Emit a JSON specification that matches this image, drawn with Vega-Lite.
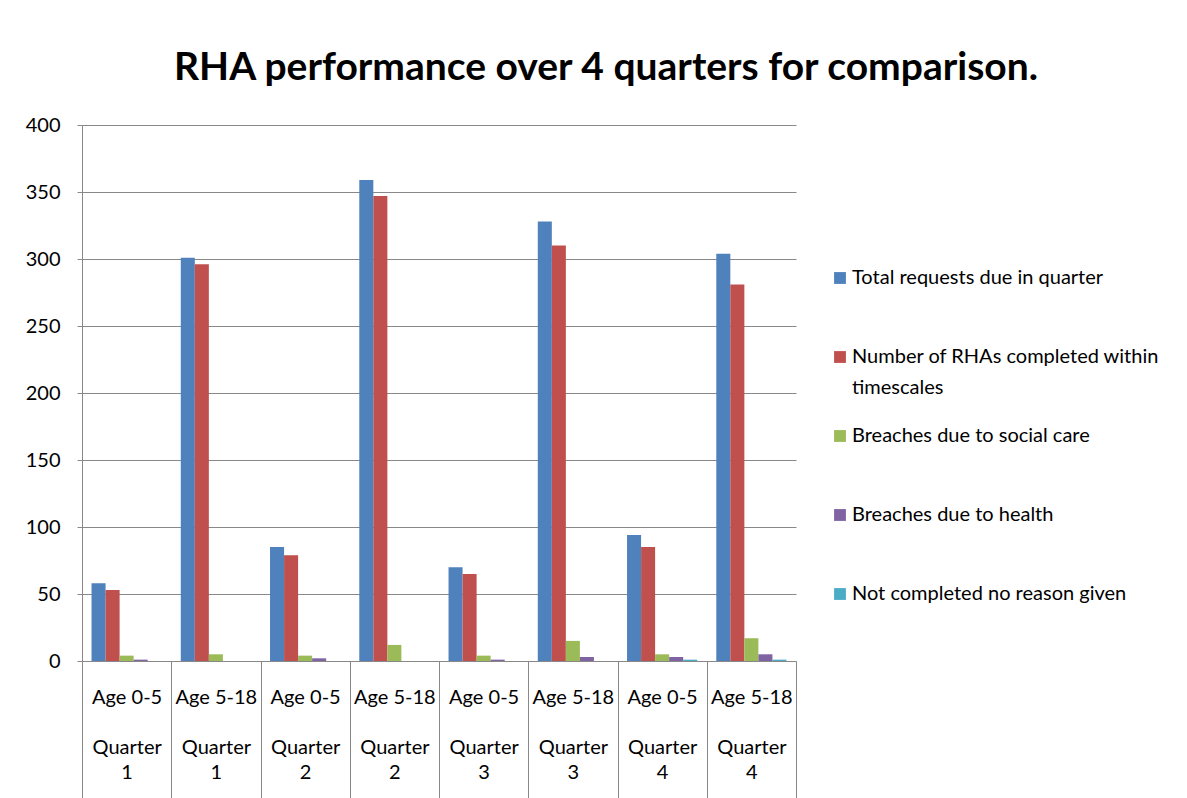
{
  "$schema": "https://vega.github.io/schema/vega-lite/v6.json",
  "autosize": "none",
  "width": 714,
  "height": 536,
  "padding": {"left": 82, "top": 125, "right": 391, "bottom": 137},
  "background": "white",
  "title": {
    "text": "RHA performance over 4 quarters for comparison.",
    "font": "Lato",
    "fontSize": 39,
    "fontWeight": "bold",
    "color": "black",
    "anchor": "middle",
    "frame": "group",
    "dx": 167,
    "offset": 27
  },
  "data": {
    "values": [
      {"cat": "Age 0-5|Quarter|1", "series": "Total requests due in quarter", "value": 58},
      {"cat": "Age 0-5|Quarter|1", "series": "Number of RHAs completed within timescales", "value": 53},
      {"cat": "Age 0-5|Quarter|1", "series": "Breaches due to social care", "value": 4},
      {"cat": "Age 0-5|Quarter|1", "series": "Breaches due to health", "value": 1},
      {"cat": "Age 0-5|Quarter|1", "series": "Not completed no reason given", "value": 0},
      {"cat": "Age 5-18|Quarter|1", "series": "Total requests due in quarter", "value": 301},
      {"cat": "Age 5-18|Quarter|1", "series": "Number of RHAs completed within timescales", "value": 296},
      {"cat": "Age 5-18|Quarter|1", "series": "Breaches due to social care", "value": 5},
      {"cat": "Age 5-18|Quarter|1", "series": "Breaches due to health", "value": 0},
      {"cat": "Age 5-18|Quarter|1", "series": "Not completed no reason given", "value": 0},
      {"cat": "Age 0-5|Quarter|2", "series": "Total requests due in quarter", "value": 85},
      {"cat": "Age 0-5|Quarter|2", "series": "Number of RHAs completed within timescales", "value": 79},
      {"cat": "Age 0-5|Quarter|2", "series": "Breaches due to social care", "value": 4},
      {"cat": "Age 0-5|Quarter|2", "series": "Breaches due to health", "value": 2},
      {"cat": "Age 0-5|Quarter|2", "series": "Not completed no reason given", "value": 0},
      {"cat": "Age 5-18|Quarter|2", "series": "Total requests due in quarter", "value": 359},
      {"cat": "Age 5-18|Quarter|2", "series": "Number of RHAs completed within timescales", "value": 347},
      {"cat": "Age 5-18|Quarter|2", "series": "Breaches due to social care", "value": 12},
      {"cat": "Age 5-18|Quarter|2", "series": "Breaches due to health", "value": 0},
      {"cat": "Age 5-18|Quarter|2", "series": "Not completed no reason given", "value": 0},
      {"cat": "Age 0-5|Quarter|3", "series": "Total requests due in quarter", "value": 70},
      {"cat": "Age 0-5|Quarter|3", "series": "Number of RHAs completed within timescales", "value": 65},
      {"cat": "Age 0-5|Quarter|3", "series": "Breaches due to social care", "value": 4},
      {"cat": "Age 0-5|Quarter|3", "series": "Breaches due to health", "value": 1},
      {"cat": "Age 0-5|Quarter|3", "series": "Not completed no reason given", "value": 0},
      {"cat": "Age 5-18|Quarter|3", "series": "Total requests due in quarter", "value": 328},
      {"cat": "Age 5-18|Quarter|3", "series": "Number of RHAs completed within timescales", "value": 310},
      {"cat": "Age 5-18|Quarter|3", "series": "Breaches due to social care", "value": 15},
      {"cat": "Age 5-18|Quarter|3", "series": "Breaches due to health", "value": 3},
      {"cat": "Age 5-18|Quarter|3", "series": "Not completed no reason given", "value": 0},
      {"cat": "Age 0-5|Quarter|4", "series": "Total requests due in quarter", "value": 94},
      {"cat": "Age 0-5|Quarter|4", "series": "Number of RHAs completed within timescales", "value": 85},
      {"cat": "Age 0-5|Quarter|4", "series": "Breaches due to social care", "value": 5},
      {"cat": "Age 0-5|Quarter|4", "series": "Breaches due to health", "value": 3},
      {"cat": "Age 0-5|Quarter|4", "series": "Not completed no reason given", "value": 1},
      {"cat": "Age 5-18|Quarter|4", "series": "Total requests due in quarter", "value": 304},
      {"cat": "Age 5-18|Quarter|4", "series": "Number of RHAs completed within timescales", "value": 281},
      {"cat": "Age 5-18|Quarter|4", "series": "Breaches due to social care", "value": 17},
      {"cat": "Age 5-18|Quarter|4", "series": "Breaches due to health", "value": 5},
      {"cat": "Age 5-18|Quarter|4", "series": "Not completed no reason given", "value": 1}
    ]
  },
  "mark": {"type": "bar", "cornerRadius": 0},
  "encoding": {
    "x": {
      "field": "cat",
      "type": "nominal",
      "sort": ["Age 0-5|Quarter|1", "Age 5-18|Quarter|1", "Age 0-5|Quarter|2", "Age 5-18|Quarter|2", "Age 0-5|Quarter|3", "Age 5-18|Quarter|3", "Age 0-5|Quarter|4", "Age 5-18|Quarter|4"],
      "scale": {"paddingInner": 0, "paddingOuter": 0},
      "axis": {
        "title": null,
        "labelAngle": 0,
        "labelExpr": "isValid(datum.value) ? [split(datum.value, '|')[0], '\u2800', split(datum.value, '|')[1], split(datum.value, '|')[2]] : ''",
        "labelFont": "Lato",
        "labelFontSize": 20,
        "labelColor": "black",
        "labelLineHeight": 25,
        "labelBaseline": "top",
        "labelPadding": -114,
        "tickBand": "extent",
        "tickSize": 140,
        "tickColor": "#888888",
        "domainColor": "#888888",
        "labelOverlap": false
      }
    },
    "xOffset": {
      "field": "series",
      "type": "nominal",
      "sort": ["Total requests due in quarter", "Number of RHAs completed within timescales", "Breaches due to social care", "Breaches due to health", "Not completed no reason given"],
      "scale": {"paddingInner": 0, "paddingOuter": 0.68}
    },
    "y": {
      "field": "value",
      "type": "quantitative",
      "scale": {"domain": [0, 400]},
      "axis": {
        "title": null,
        "values": [0, 50, 100, 150, 200, 250, 300, 350, 400],
        "labelFont": "Lato",
        "labelFontSize": 20,
        "labelColor": "black",
        "tickSize": 5,
        "labelPadding": 17,
        "tickColor": "#888888",
        "domainColor": "#888888",
        "gridColor": "#888888",
        "grid": true
      }
    },
    "color": {
      "field": "series",
      "type": "nominal",
      "sort": ["Total requests due in quarter", "Number of RHAs completed within timescales", "Breaches due to social care", "Breaches due to health", "Not completed no reason given"],
      "scale": {
        "domain": ["Total requests due in quarter", "Number of RHAs completed within timescales", "Breaches due to social care", "Breaches due to health", "Not completed no reason given"],
        "range": ["#4F81BD", "#C0504D", "#9BBB59", "#8064A2", "#4BACC6"]
      },
      "legend": {
        "title": null,
        "orient": "none",
        "legendX": 748,
        "legendY": 143,
        "symbolType": "square",
        "symbolSize": 140,
        "symbolStrokeWidth": 0,
        "labelFont": "Lato",
        "labelFontSize": 20,
        "labelColor": "black",
        "labelLimit": 400,
        "labelBaseline": "top",
        "labelExpr": "datum.value == 'Number of RHAs completed within timescales' ? ['Number of RHAs completed within', 'timescales'] : [datum.value, '\u00a0']",
        "rowPadding": 28,
        "labelOffset": 2,
        "encode": {
          "labels": {"update": {"lineHeight": {"value": 31}, "dy": {"value": -10}}}
        }
      }
    }
  },
  "config": {
    "view": {"stroke": null},
    "axis": {"domainWidth": 1, "gridWidth": 1}
  }
}
